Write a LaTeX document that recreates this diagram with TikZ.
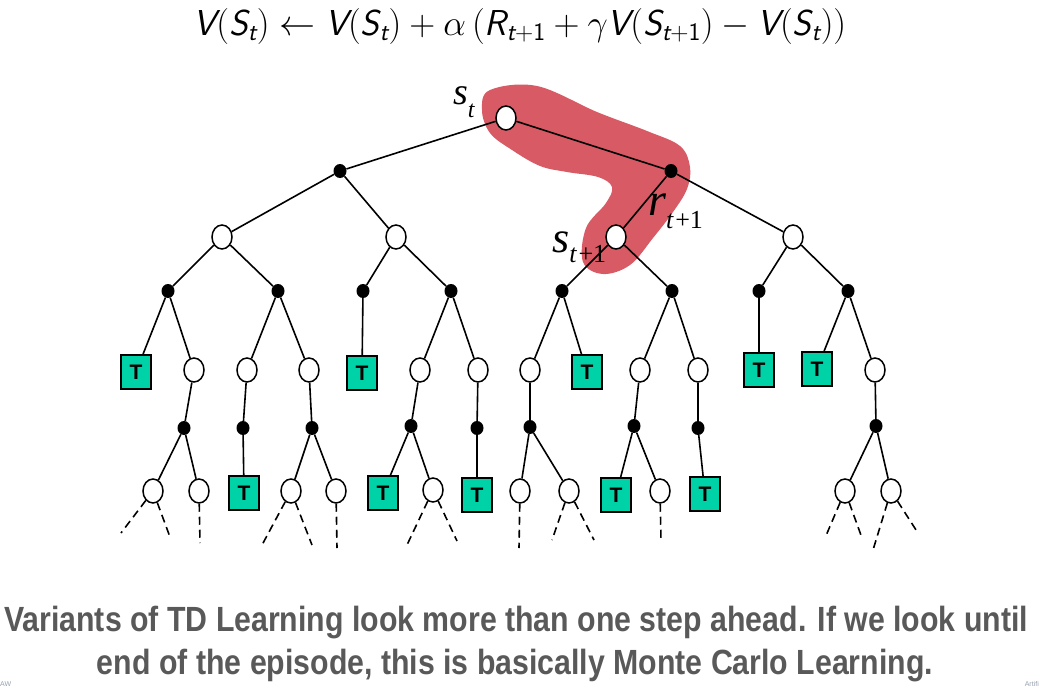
\RequirePackage{fix-cm}
\documentclass[tikz,border=0pt]{standalone}
\usepackage{amsmath}
\usepackage{fontspec}
\newfontfamily\tms{Liberation Serif}
\newfontfamily\tfont{Liberation Sans}
\newfontfamily\capfont[FakeStretch=0.865]{Liberation Sans}
\usetikzlibrary{shapes.geometric}
\definecolor{blobred}{RGB}{215,90,100}
\definecolor{termteal}{RGB}{0,210,168}
\definecolor{capgray}{RGB}{89,89,89}
\definecolor{footgray}{RGB}{150,160,175}
\newcommand{\sfi}[1]{\textsf{\itshape #1}}
\newcommand{\lbl}[5]{{\tms\itshape\fontsize{#1}{#1}\selectfont #2}\raisebox{-#5pt}{\tms\fontsize{#3}{#3}\selectfont #4}}

\begin{document}
\begin{tikzpicture}[x=1pt,y=-1pt,
    state/.style={draw, ellipse, fill=white, line width=1.5pt, minimum width=20pt, minimum height=24pt, inner sep=0pt},
    act/.style={ellipse, fill=black, minimum width=13pt, minimum height=14pt, inner sep=0pt},
    term/.style={draw, fill=termteal, line width=1.5pt, minimum width=30pt, minimum height=34pt, inner sep=0pt, font=\tfont\bfseries\fontsize{21}{21}\selectfont},
    edge/.style={line width=1.6pt},
    tail/.style={line width=1.6pt, dash pattern=on 8pt off 5pt},
    blob/.style={fill=blobred}]
  \useasboundingbox (0,0) rectangle (1039,688);

  \node[anchor=base, inner sep=0pt] (eq) at (520,35) {\fontsize{36}{42}\selectfont
    $\sfi{V}(\sfi{S}_{\sfi{t}}) \leftarrow \sfi{V}(\sfi{S}_{\sfi{t}}) + \alpha\,(\sfi{R}_{\sfi{t}+\textsf{1}} + \gamma\sfi{V}(\sfi{S}_{\sfi{t}+\textsf{1}}) - \sfi{V}(\sfi{S}_{\sfi{t}}))$};

  \fill[blob] plot[smooth cycle, tension=0.6] coordinates {(490,90) (537,86) (597,112) (647,131) (680,146) (690,167) (687,189) (673,212) (653,238) (630,265) (603,274) (583,262) (586,228) (606,203) (612,187) (598,177) (567,172) (540,166) (512,150) (490,133) (482,110)};

  \node[state] (st) at (506,118) {};
  \node[act] (a1) at (340,171) {};
  \node[act] (a2) at (671,171) {};
  \node[state] (b1) at (222,237) {};
  \node[state] (b2) at (396,237) {};
  \node[state] (b3) at (616,237) {};
  \node[state] (b4) at (793,237) {};
  \node[act] (c1) at (168,291) {};
  \node[act] (c2) at (278,291) {};
  \node[act] (c3) at (363,291) {};
  \node[act] (c4) at (451,291) {};
  \node[act] (c5) at (562,291) {};
  \node[act] (c6) at (672,291) {};
  \node[act] (c7) at (759,291) {};
  \node[act] (c8) at (848,291) {};
  \node[term] (d1) at (136,372) {T};
  \node[state] (d2) at (194,370) {};
  \node[state] (d3) at (247,370) {};
  \node[state] (d4) at (309,370) {};
  \node[term] (d5) at (362,373) {T};
  \node[state] (d6) at (420,370) {};
  \node[state] (d7) at (478,370) {};
  \node[state] (d8) at (530,370) {};
  \node[term] (d9) at (587,372) {T};
  \node[state] (d10) at (640,370) {};
  \node[state] (d11) at (698,370) {};
  \node[term] (d12) at (759,370) {T};
  \node[term] (d13) at (817,369) {T};
  \node[state] (d14) at (875,370) {};
  \node[act] (e1) at (184,428) {};
  \node[act] (e2) at (243,428) {};
  \node[act] (e3) at (312,428) {};
  \node[act] (e4) at (411,426) {};
  \node[act] (e5) at (477,428) {};
  \node[act] (e6) at (530,427) {};
  \node[act] (e7) at (634,426) {};
  \node[act] (e8) at (698,428) {};
  \node[act] (e9) at (876,426) {};
  \node[state] (f1) at (153,491) {};
  \node[state] (f2) at (199,491) {};
  \node[term] (f3) at (244,493) {T};
  \node[state] (f4) at (291,491) {};
  \node[state] (f5) at (336,491) {};
  \node[term] (f6) at (383,493) {T};
  \node[state] (f7) at (433,490) {};
  \node[term] (f8) at (477,495) {T};
  \node[state] (f9) at (520,491) {};
  \node[state] (f10) at (569,491) {};
  \node[term] (f11) at (616,495) {T};
  \node[state] (f12) at (660,491) {};
  \node[term] (f13) at (705,494) {T};
  \node[state] (f14) at (845,491) {};
  \node[state] (f15) at (891,491) {};

  \coordinate (f1l) at (121,533);
  \coordinate (f1r) at (170,537);
  \coordinate (f2d) at (200,543);
  \coordinate (f4l) at (262,545);
  \coordinate (f4r) at (312,545);
  \coordinate (f5d) at (337,548);
  \coordinate (f7l) at (407,545);
  \coordinate (f7r) at (457,541);
  \coordinate (f9d) at (519,548);
  \coordinate (f10l) at (552,540);
  \coordinate (f10r) at (594,540);
  \coordinate (f12d) at (661,540);
  \coordinate (f14l) at (825,538);
  \coordinate (f14r) at (862,538);
  \coordinate (f15l) at (873,550);
  \coordinate (f15r) at (918,533);

  \draw[edge] (st) -- (a1) (st) -- (a2);
  \draw[edge] (a1) -- (b1) (a1) -- (b2) (a2) -- (b3) (a2) -- (b4);
  \draw[edge] (b1) -- (c1) (b1) -- (c2) (b2) -- (c3) (b2) -- (c4);
  \draw[edge] (b3) -- (c5) (b3) -- (c6) (b4) -- (c7) (b4) -- (c8);
  \draw[edge] (c1) -- (d1) (c1) -- (d2) (c2) -- (d3) (c2) -- (d4) (c3) -- (d5);
  \draw[edge] (c4) -- (d6) (c4) -- (d7) (c5) -- (d8) (c5) -- (d9);
  \draw[edge] (c6) -- (d10) (c6) -- (d11) (c7) -- (d12) (c8) -- (d13) (c8) -- (d14);
  \draw[edge] (d2) -- (e1) (d3) -- (e2) (d4) -- (e3) (d6) -- (e4) (d7) -- (e5);
  \draw[edge] (d8) -- (e6) (d10) -- (e7) (d11) -- (e8) (d14) -- (e9);
  \draw[edge] (e1) -- (f1) (e1) -- (f2) (e2) -- (f3) (e3) -- (f4) (e3) -- (f5);
  \draw[edge] (e4) -- (f6) (e4) -- (f7) (e5) -- (f8) (e6) -- (f9) (e6) -- (f10);
  \draw[edge] (e7) -- (f11) (e7) -- (f12) (e8) -- (f13) (e9) -- (f14) (e9) -- (f15);
  \draw[tail] (f1) -- (f1l) (f1) -- (f1r) (f2) -- (f2d) (f4) -- (f4l) (f4) -- (f4r) (f5) -- (f5d);
  \draw[tail] (f7) -- (f7l) (f7) -- (f7r) (f9) -- (f9d) (f10) -- (f10l) (f10) -- (f10r) (f12) -- (f12d);
  \draw[tail] (f14) -- (f14l) (f14) -- (f14r) (f15) -- (f15l) (f15) -- (f15r);

  \node[anchor=base west, inner sep=0pt] (lst) at (453,104) {\lbl{38}{s}{24}{\itshape t}{13}};
  \node[anchor=base west, inner sep=0pt] (lst1) at (552,252) {\lbl{44}{s}{26}{\itshape t\kern2pt\upshape+1}{10}};
  \node[anchor=base west, inner sep=0pt] (lrt1) at (648,215) {\lbl{46}{r}{26}{\itshape t\kern2pt\upshape+1}{13}};

  \node[anchor=base, inner sep=0pt, text=capgray, font=\capfont\bfseries\fontsize{35}{35}\selectfont] (cap1) at (516,631) {Variants of TD Learning look more than one step ahead. If we look until};
  \node[anchor=base, inner sep=0pt, text=capgray, font=\capfont\bfseries\fontsize{35}{35}\selectfont] (cap2) at (515,674) {end of the episode, this is basically Monte Carlo Learning.};
  \node[anchor=base west, inner sep=0pt, text=footgray, font=\tfont\fontsize{7}{7}\selectfont] (lfoot) at (0,686) {AW};
  \node[anchor=base east, inner sep=0pt, text=footgray, font=\tfont\fontsize{7}{7}\selectfont] (rfoot) at (1039,686) {Artifi};
\end{tikzpicture}
\end{document}
